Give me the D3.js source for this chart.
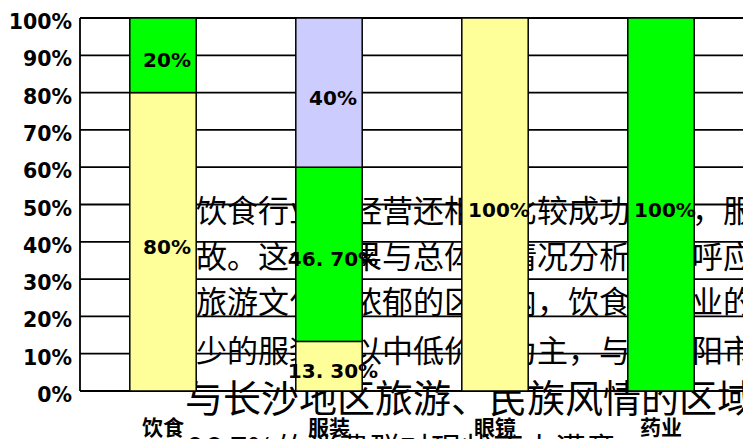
<!DOCTYPE html>
<html><head><meta charset="utf-8">
<script src="https://cdn.jsdelivr.net/npm/d3@7"></script>
<style>body{margin:0;background:#fff}svg{display:block}</style>
</head><body><svg id="c" width="743" height="439"></svg>
<script>
const categories = ["饮食", "服装", "眼镜", "药业"];
const yellowValues = [80, 13.3, 100, 0];
const greenValues = [20, 46.7, 0, 100];
const lavenderValues = [0, 40, 0, 0];
const yellowLabels = ["80%", "13. 30%", "100%", ""];
const greenLabels = ["20%", "46. 70%", "", "100%"];
const lavenderLabels = ["", "40%", "", ""];
const yTickValues = [0, 10, 20, 30, 40, 50, 60, 70, 80, 90, 100];
const yTickLabels = ["0%", "10%", "20%", "30%", "40%", "50%", "60%", "70%", "80%", "90%", "100%"];
const overlayLines = [
  "饮食行业的经营还相对比较成功一些，服装行业",
  "故。这个结果与总体的情况分析相互呼应，",
  "旅游文化较浓郁的区域内，饮食服务业的",
  "少的服装店以中低价位为主，与如岳阳市",
  "与长沙地区旅游、民族风情的区域",
  "96.7%的消费群对现状不太满意"
];

(function () {
const W = 743, H = 439;
const svg = d3.select("#c");
const pLeft = 80, pRight = 744, pTop = 18, pBottom = 391;

// overlay text (beneath chart)
const overlayLayout = [
  {x: 196, y: 208, fs: 31},
  {x: 196, y: 254, fs: 31},
  {x: 196, y: 299, fs: 31},
  {x: 196, y: 348, fs: 31},
  {x: 185, y: 395, fs: 38},
  {x: 187, y: 446, fs: 31}
];
svg.append("g").selectAll("text").data(overlayLines).join("text")
  .attr("x", (d, i) => overlayLayout[i].x)
  .attr("y", (d, i) => overlayLayout[i].y)
  .attr("dominant-baseline", "central")
  .style("font-family", "'Noto Sans CJK SC', sans-serif")
  .style("font-size", (d, i) => overlayLayout[i].fs + "px")
  .attr("fill", "#000")
  .text(d => d);

const x = d3.scaleBand().domain(categories).range([pLeft, pRight]).paddingInner(0.6).paddingOuter(0.3);
const y = d3.scaleLinear().domain([0, 100]).range([pBottom, pTop]);

// gridlines
svg.append("g").selectAll("line").data(yTickValues).join("line")
  .attr("x1", pLeft).attr("x2", W)
  .attr("y1", d => y(d)).attr("y2", d => y(d))
  .attr("stroke", "#000").attr("stroke-width", 1.8);
svg.append("line").attr("x1", pLeft).attr("x2", pLeft).attr("y1", y(100)).attr("y2", y(0))
  .attr("stroke", "#000").attr("stroke-width", 1.8);

// stacked data
const rows = categories.map((c, i) => ({cat: c, yellow: yellowValues[i], green: greenValues[i], lavender: lavenderValues[i]}));
const keys = ["yellow", "green", "lavender"];
const colors = {yellow: "#FFFF99", green: "#00FF00", lavender: "#CCCCFF"};
const labels = {yellow: yellowLabels, green: greenLabels, lavender: lavenderLabels};
const stacked = d3.stack().keys(keys)(rows);

const gBars = svg.append("g");
stacked.forEach(layer => {
  gBars.append("g").selectAll("rect").data(layer.filter(d => d[1] - d[0] > 0)).join("rect")
    .attr("x", d => x(d.data.cat))
    .attr("width", x.bandwidth())
    .attr("y", d => y(d[1]))
    .attr("height", d => y(d[0]) - y(d[1]))
    .attr("fill", colors[layer.key])
    .attr("stroke", "#000").attr("stroke-width", 1.5);
});

// value labels
stacked.forEach(layer => {
  svg.append("g").selectAll("text").data(layer.map((d, i) => ({d, i})).filter(o => labels[layer.key][o.i] !== ""))
    .join("text")
    .attr("x", o => x(o.d.data.cat) + x.bandwidth() / 2 + 4)
    .attr("y", o => (y(o.d[0]) + y(o.d[1])) / 2 + 5)
    .attr("text-anchor", "middle")
    .attr("dominant-baseline", "central")
    .style("font-family", "'DejaVu Sans', sans-serif")
    .style("font-weight", "bold")
    .style("font-size", "20px")
    .text(o => labels[layer.key][o.i]);
});

// y tick labels
svg.append("g").selectAll("text").data(yTickValues).join("text")
  .attr("x", 72)
  .attr("y", d => y(d) + 4)
  .attr("text-anchor", "end")
  .attr("dominant-baseline", "central")
  .style("font-family", "'DejaVu Sans', sans-serif")
  .style("font-weight", "bold")
  .style("font-size", "20.5px")
  .text((d, i) => yTickLabels[i]);

// x labels
svg.append("g").selectAll("text").data(categories).join("text")
  .attr("x", d => x(d) + x.bandwidth() / 2)
  .attr("y", 426)
  .attr("text-anchor", "middle")
  .attr("dominant-baseline", "central")
  .style("font-family", "'Noto Sans CJK SC', sans-serif")
  .style("font-weight", "bold")
  .style("font-size", "21px")
  .text(d => d);
})();
</script>
</body></html>
